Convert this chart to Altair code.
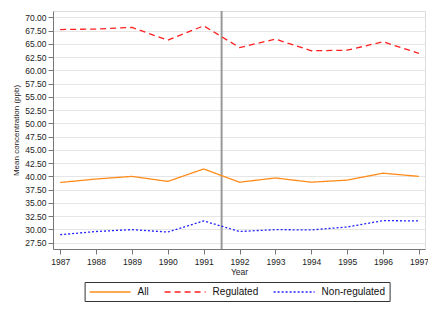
import altair as alt
import pandas as pd

years = list(range(1987, 1998))
all_vals = [38.85, 39.5, 40.0, 39.05, 41.4, 38.9, 39.7, 38.9, 39.3, 40.6, 40.0]
regulated = [67.7, 67.8, 68.1, 65.7, 68.4, 64.3, 65.9, 63.7, 63.8, 65.4, 63.2]
non_regulated = [29.0, 29.6, 29.95, 29.5, 31.6, 29.6, 29.95, 29.9, 30.45, 31.65, 31.6]
series = ["All", "Regulated", "Non-regulated"]
colors = ["#ff8c1a", "#ff2020", "#2020ff"]
dashes = [[1, 0], [6, 4], [2, 2]]
y_ticks = [27.5 + 2.5 * i for i in range(18)]
break_year = [1991.5]

rows = []
for s, vals in zip(series, [all_vals, regulated, non_regulated]):
    for y, v in zip(years, vals):
        rows.append({"Year": y, "Series": s, "Value": v})
df = pd.DataFrame(rows)

font = "Liberation Sans"

x_scale = alt.Scale(domain=[1986.8, 1997.17], nice=False, zero=False)
y_scale = alt.Scale(domain=[26.3, 71.2], nice=False, zero=False)

lines = alt.Chart(df).mark_line(strokeWidth=1.3).encode(
    x=alt.X("Year:Q", scale=x_scale,
            axis=alt.Axis(values=years, tickCount=30, format="d", title="Year", grid=False,
                          labelOverlap=False, labelBound=False,
                          labelFontSize=8.5, titleFontSize=8.5, titleFontWeight="normal",
                          titlePadding=2, labelPadding=3, tickSize=5,
                          domainColor="#777", tickColor="#777", labelColor="#222",
                          titleColor="#222", labelFont=font, titleFont=font)),
    y=alt.Y("Value:Q", scale=y_scale,
            axis=alt.Axis(values=y_ticks, tickCount=40, format=".2f",
                          title="Mean concentration (ppb)",
                          gridColor="#e6e6e6", gridWidth=1.2,
                          labelOverlap=False, labelBound=False,
                          labelFontSize=8.5, titleFontSize=8, titleFontWeight="normal",
                          titlePadding=4, labelPadding=2, tickSize=5,
                          domainColor="#777", tickColor="#777", labelColor="#222",
                          titleColor="#222", labelFont=font, titleFont=font)),
    color=alt.Color("Series:N", scale=alt.Scale(domain=series, range=colors),
                    legend=alt.Legend(orient="none", legendX=31.6, legendY=271,
                                      direction="horizontal", title=None,
                                      symbolType="M-1,0H7.2", symbolSize=100,
                                      symbolStrokeWidth=1.3,
                                      labelFontSize=10, labelFont=font, labelColor="#111",
                                      strokeColor="#333", padding=4,
                                      columnPadding=12, labelOffset=37,
                                      symbolOffset=0)),
    strokeDash=alt.StrokeDash("Series:N", scale=alt.Scale(domain=series, range=dashes),
                              legend=None),
)

vline = alt.Chart(pd.DataFrame({"x": break_year})).mark_rule(
    color="#999999", strokeWidth=2
).encode(x=alt.X("x:Q", scale=x_scale))

chart = alt.layer(vline, lines).properties(
    width=372, height=238,
    autosize=alt.AutoSizeParams(type="none"),
    padding={"left": 45, "top": 3, "right": 3, "bottom": 60},
).configure_view(stroke=None).configure(background="white")

chart.save("out.html", embed_options={"renderer": "svg", "actions": False})
